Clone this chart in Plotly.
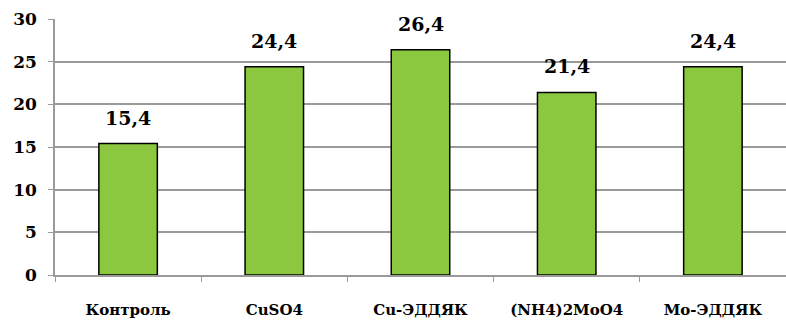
import plotly.graph_objects as go

categories = ["Контроль", "CuSO4", "Cu-ЭДДЯК", "(NH4)2MoO4", "Mo-ЭДДЯК"]
values = [15.4, 24.4, 26.4, 21.4, 24.4]
y_ticks = [0, 5, 10, 15, 20, 25, 30]

font_family = "DejaVu Serif"

fig = go.Figure(
    go.Bar(
        x=categories,
        y=values,
        marker=dict(color="#8CC83F", line=dict(color="#000000", width=1.5)),
    )
)

# value labels above each bar, with a comma as decimal separator
for cat, val in zip(categories, values):
    fig.add_annotation(
        x=cat,
        y=val,
        text=f"{val:.1f}".replace(".", ","),
        showarrow=False,
        yanchor="bottom",
        yshift=13,
        font=dict(family=font_family, size=19, color="#000000", weight="bold"),
    )

fig.update_layout(
    width=786,
    height=320,
    margin=dict(l=55, r=0, t=19, b=45),
    plot_bgcolor="#FFFFFF",
    paper_bgcolor="#FFFFFF",
    bargap=0.6,
    showlegend=False,
    font=dict(family=font_family, color="#000000"),
)

fig.update_xaxes(
    showline=True,
    linecolor="#9A9A9A",
    linewidth=1.5,
    showgrid=False,
    ticks="outside",
    tickson="boundaries",
    ticklen=5,
    tickcolor="#9A9A9A",
    tickfont=dict(family=font_family, size=15, color="#000000", weight="bold"),
    ticklabelstandoff=20,
)

fig.update_yaxes(
    range=[0, 30],
    tickvals=y_ticks,
    showline=True,
    linecolor="#9A9A9A",
    linewidth=1.5,
    showgrid=True,
    gridcolor="#9A9A9A",
    gridwidth=1.5,
    zeroline=False,
    ticks="outside",
    ticklen=5,
    tickcolor="#9A9A9A",
    tickfont=dict(family=font_family, size=17, color="#000000", weight="bold"),
    ticklabelstandoff=8,
)

fig.write_html("out.html")
